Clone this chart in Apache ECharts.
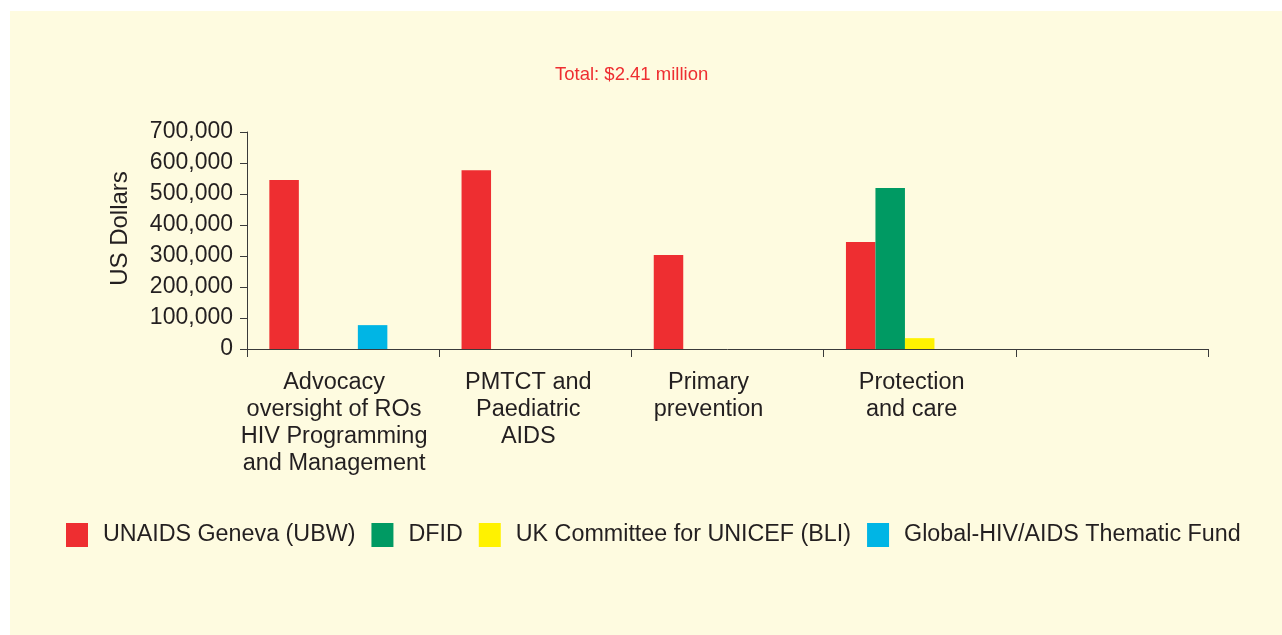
<!DOCTYPE html>
<html><head><meta charset="utf-8">
<script src="https://cdn.jsdelivr.net/npm/echarts@6/dist/echarts.min.js"></script>
<style>
html,body{margin:0;padding:0;background:#ffffff;}
#panel{position:absolute;left:10px;top:11px;width:1272px;height:624px;background:#fefbe0;}
#chart{position:absolute;left:0;top:0;width:1282px;height:635px;}
</style></head>
<body>
<div id="panel"></div>
<div id="chart"></div>
<script>
const categories = ['Advocacy\noversight of ROs\nHIV Programming\nand Management', 'PMTCT and\nPaediatric\nAIDS', 'Primary\nprevention', 'Protection\nand care', ''];
const seriesNames = ['UNAIDS Geneva (UBW)', 'DFID', 'UK Committee for UNICEF (BLI)', 'Global-HIV/AIDS Thematic Fund'];
const unaidsGeneva = [545000, 577000, 303000, 345000, null];
const dfid = [null, null, null, 519000, null];
const ukCommittee = [null, null, null, 35000, null];
const globalFund = [77000, null, null, null, null];
const yTicks = [0, 100000, 200000, 300000, 400000, 500000, 600000, 700000];
const titleText = 'Total: $2.41 million';
const yAxisName = 'US Dollars';

// label horizontal shifts (px, negative = left), styling only
const labelShift = [-9, -7, -19, -8, 0];

const colors = ['#ee2e31', '#009a63', '#fff200', '#00b5e5'];
const font = 'Liberation Sans, Arial, Helvetica, sans-serif';
const chart = echarts.init(document.getElementById('chart'));
const values = [unaidsGeneva, dfid, ukCommittee, globalFund];
const series = values.map((d, i) => ({
  name: seriesNames[i], type: 'bar', data: d,
  barWidth: 29.5, barGap: '0%',
  itemStyle: { color: colors[i] }
}));
series.push({ name: '_spacer', type: 'bar', data: [null, null, null, null, null], barWidth: 29.5, barGap: '0%' });

const catData = categories.map((c, i) => ({
  value: c,
  textStyle: { padding: labelShift[i] < 0 ? [0, -2 * labelShift[i], 0, 0] : [0, 0, 0, 2 * labelShift[i]] }
}));

chart.setOption({
  backgroundColor: 'transparent',
  animation: false,
  title: { text: titleText, left: 550, top: 60,
    textStyle: { color: '#ee2e31', fontSize: 18.5, fontWeight: 'normal', fontFamily: font } },
  grid: { left: 247, right: 74, top: 132, bottom: 286, containLabel: false },
  legend: {
    data: seriesNames, left: 66, top: 523, padding: 0,
    itemWidth: 22, itemHeight: 24, itemGap: 16,
    icon: 'rect',
    textStyle: { fontSize: 23.3, color: '#231f20', fontFamily: font, padding: [0, 0, 0, 10] }
  },
  xAxis: {
    type: 'category', data: catData,
    axisLine: { lineStyle: { color: '#3a3a3a', width: 1 } },
    axisTick: { show: true, length: 8, lineStyle: { color: '#3a3a3a' } },
    axisLabel: { interval: 0, margin: 20, fontSize: 23.5, lineHeight: 27, color: '#231f20', fontFamily: font, align: 'center' }
  },
  yAxis: {
    type: 'value', min: 0, max: 700000, interval: 100000,
    name: yAxisName, nameLocation: 'middle', nameGap: 115, nameRotate: 90,
    nameTextStyle: { fontSize: 24, color: '#231f20', fontFamily: font, padding: [0, 0, 0, 24] },
    axisLine: { show: true, lineStyle: { color: '#3a3a3a' } },
    axisTick: { show: true, inside: false, length: 7, lineStyle: { color: '#3a3a3a' } },
    splitLine: { show: false },
    axisLabel: { fontSize: 23, color: '#231f20', fontFamily: font, margin: 14,
      formatter: v => yTicks.includes(v) ? v.toLocaleString('en-US') : '' }
  },
  series: series
});
</script>
</body></html>
